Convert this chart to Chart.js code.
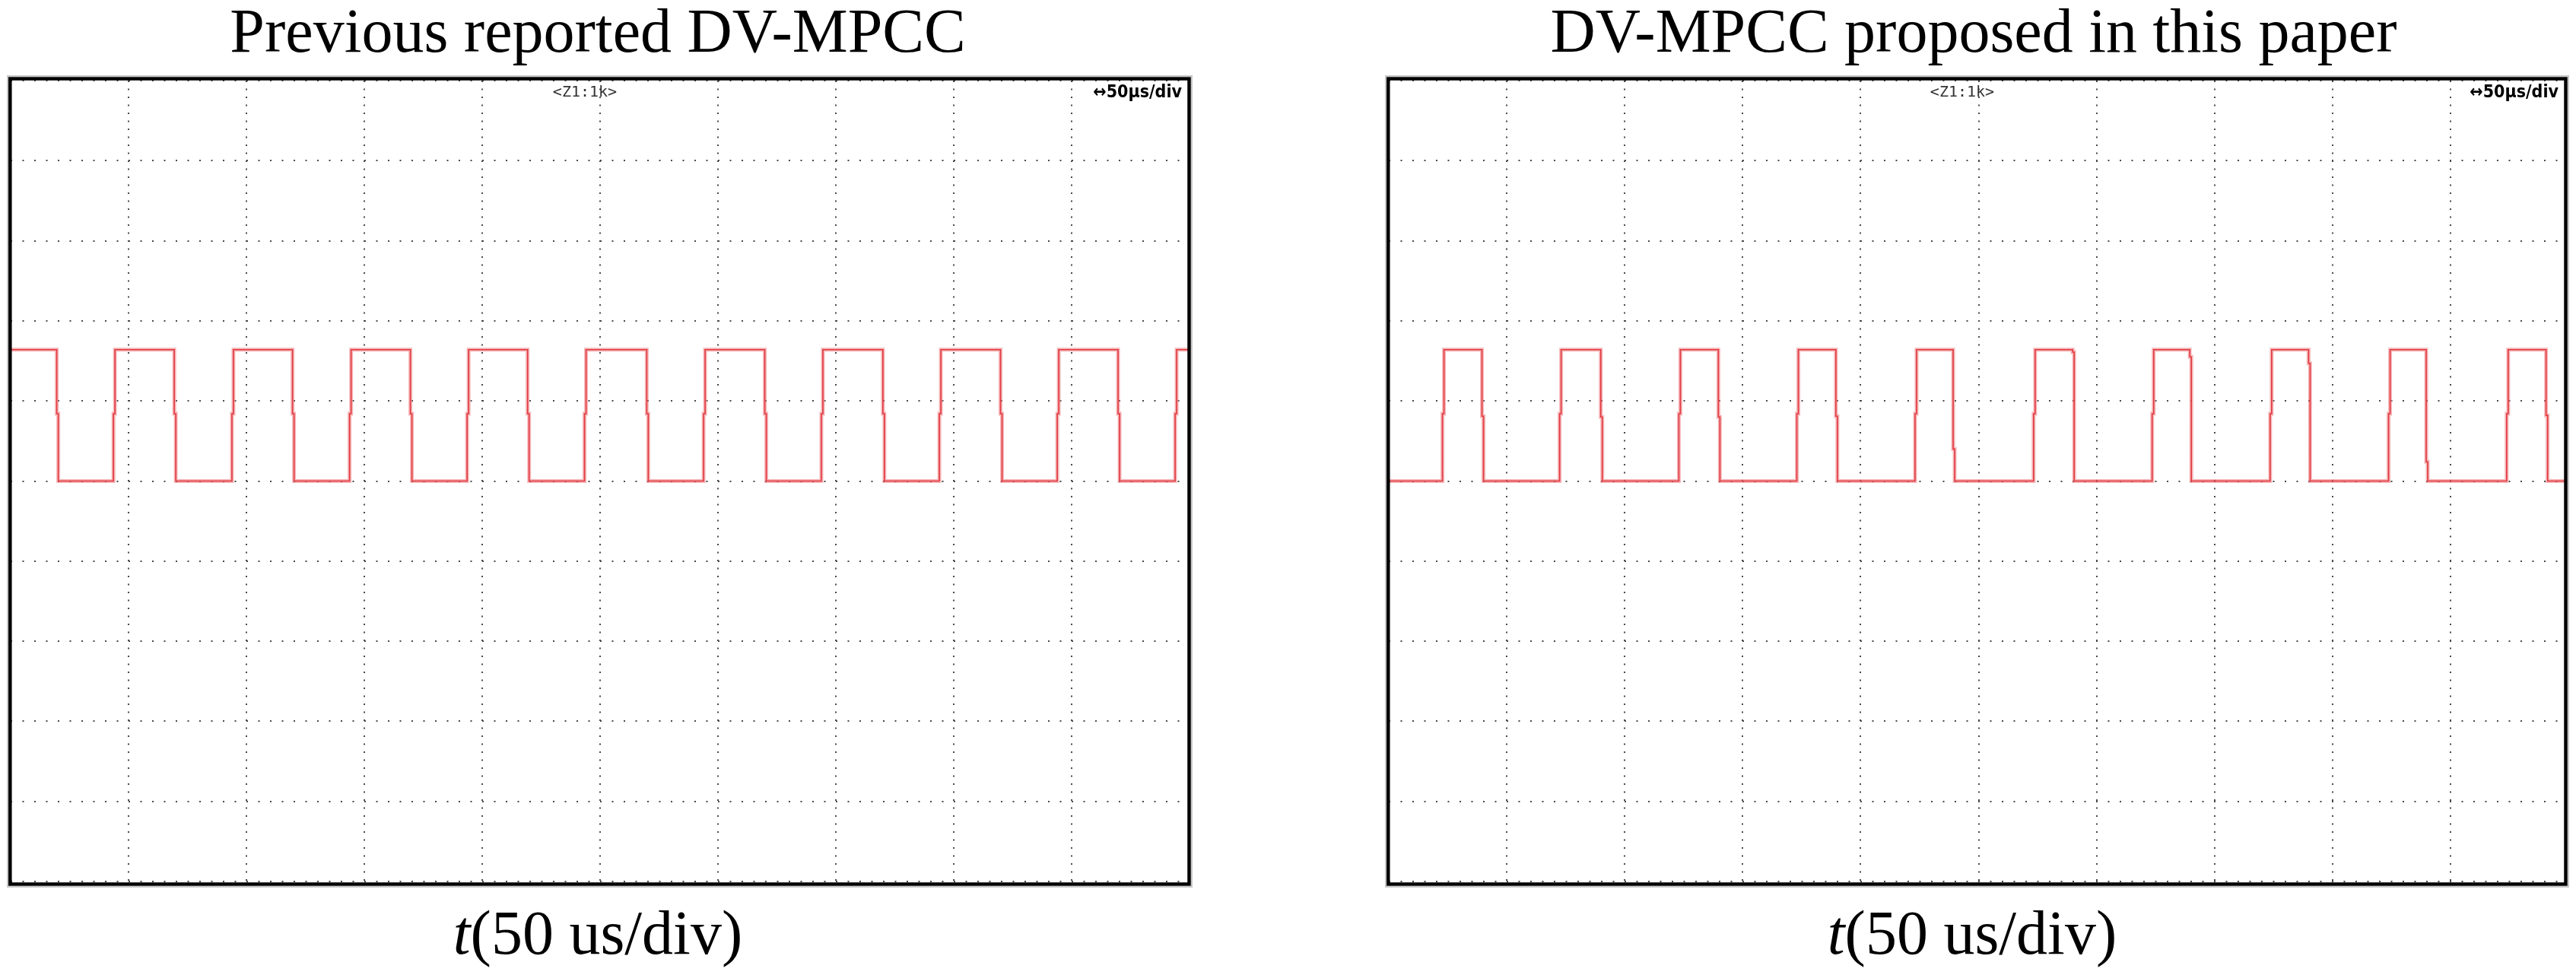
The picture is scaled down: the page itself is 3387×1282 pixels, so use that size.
<!DOCTYPE html>
<html>
<head>
<meta charset="utf-8">
<script src="https://cdn.jsdelivr.net/npm/chart.js@4.4.0/dist/chart.umd.min.js"></script>
<style>
  html, body { margin: 0; padding: 0; background: #fff; }
  #page { position: relative; width: 3387px; height: 1282px; overflow: hidden; }
  .cap { position: absolute; width: 1600px; text-align: center; white-space: nowrap;
         font-family: "Liberation Serif", "Times New Roman", serif; font-size: 82px; line-height: 82px; color: #000; }
  .box { position: absolute; top: 96px; height: 1073px; }
</style>
</head>
<body>
<div id="page">
  <div class="cap" style="left:-14px; top:0px;">Previous reported DV-MPCC</div>
  <div class="cap" style="left:1795px; top:0px;">DV-MPCC proposed in this paper</div>
  <div class="box" style="left:4px; width:1570px;"><canvas id="scopeLeft" width="1570" height="1073"></canvas></div>
  <div class="box" style="left:1816px; width:1568px;"><canvas id="scopeRight" width="1568" height="1073"></canvas></div>
  <div class="cap" style="left:-14px; top:1186px;"><i>t</i>(50 us/div)</div>
  <div class="cap" style="left:1793px; top:1186px;"><i>t</i>(50 us/div)</div>
</div>
<script>
// levels in divisions (center line = 0)
const HIGH = 1.64;
const LOW = 0;
const EDGE_KINK = 0.84;   // small step seen half way on each edge
const KINK_SHIFT = 0.013;

// previous DV-MPCC: edge times in divisions (50 us/div)
const leftFall = [0.391, 1.388, 2.391, 3.391, 4.385, 5.396, 6.397, 7.399, 8.397, 9.394];
const leftRise = [0.872, 1.877, 2.875, 3.872, 4.868, 5.878, 6.877, 7.878, 8.878, 9.878];

// proposed DV-MPCC
const rightRise = [0.455, 1.448, 2.459, 3.459, 4.461, 5.466, 6.471, 7.471, 8.475, 9.476];
const rightFall = [0.790, 1.797, 2.794, 3.790, 4.784, 5.797, 6.790, 7.797, 8.794, 9.810];
const rightFallKink = [0.81, 0.80, 0.80, 0.81, 0.40, 1.61, 1.55, 1.47, 0.24, 0.82];

const xDivs = 10;
const xDivsRight = 9.98; // right screen shot is cropped a little

function trace(startLevel, rises, falls, fallKinks, xEnd) {
  const edges = [];
  rises.forEach(t => edges.push({ t: t, from: LOW, to: HIGH, kink: EDGE_KINK }));
  falls.forEach((t, i) => edges.push({ t: t, from: HIGH, to: LOW, kink: fallKinks ? fallKinks[i] : EDGE_KINK }));
  edges.sort((a, b) => a.t - b.t);
  const pts = [{ x: 0, y: startLevel }];
  let level = startLevel;
  edges.forEach(e => {
    pts.push({ x: e.t, y: e.from });
    pts.push({ x: e.t, y: e.kink });
    pts.push({ x: e.t + KINK_SHIFT, y: e.kink });
    pts.push({ x: e.t + KINK_SHIFT, y: e.to });
    level = e.to;
  });
  pts.push({ x: xEnd, y: level });
  return pts;
}

const scopeFrame = {
  id: 'scopeFrame',
  afterDraw(chart) {
    const { ctx, chartArea: a } = chart;
    ctx.save();
    ctx.strokeStyle = 'rgba(0,0,0,0.22)';
    ctx.lineWidth = 2;
    ctx.strokeRect(a.left - 4, a.top - 6, a.right - a.left + 7, a.bottom - a.top + 13);
    ctx.strokeStyle = '#000';
    ctx.lineWidth = 4.5;
    ctx.strokeRect(a.left - 0.7, a.top - 2.5, a.right - a.left + 0.2, a.bottom - a.top + 6);
    ctx.fillStyle = '#333';
    ctx.font = '20px "DejaVu Sans Mono", monospace';
    ctx.textAlign = 'center';
    ctx.textBaseline = 'top';
    ctx.fillText('<Z1:1k>', (a.left + a.right) / 2 - 20, a.top + 6);
    ctx.fillStyle = '#000';
    ctx.font = 'bold 23px "DejaVu Sans Condensed", "DejaVu Sans", sans-serif';
    ctx.textAlign = 'right';
    ctx.fillText('\u219450\u00b5s/div', a.right - 10, a.top + 5);
    ctx.restore();
  }
};

function scope(id, data, xMax) {
  return new Chart(document.getElementById(id), {
    type: 'scatter',
    data: {
      datasets: [
        { data: data, showLine: true, pointRadius: 0, borderColor: '#e0383d', borderWidth: 1.6, tension: 0 },
        { data: data, showLine: true, pointRadius: 0, borderColor: 'rgba(236,120,126,0.55)', borderWidth: 5, tension: 0 }
      ]
    },
    options: {
      responsive: false,
      animation: false,
      layout: { padding: 10 },
      plugins: { legend: { display: false }, tooltip: { enabled: false } },
      scales: {
        x: {
          type: 'linear', min: 0, max: xMax,
          ticks: { display: false, stepSize: 1, includeBounds: false },
          grid: { color: '#4a4a4a', lineWidth: 2, drawTicks: false },
          border: { display: false, dash: [2, 8.5] }
        },
        y: {
          type: 'linear', min: -5, max: 5,
          ticks: { display: false, stepSize: 1, includeBounds: false },
          grid: { color: '#4a4a4a', lineWidth: 2, drawTicks: false },
          border: { display: false, dash: [2, 13.5] }
        }
      }
    },
    plugins: [scopeFrame]
  });
}

scope('scopeLeft', trace(HIGH, leftRise, leftFall, null, xDivs), xDivs);
scope('scopeRight', trace(LOW, rightRise, rightFall, rightFallKink, xDivsRight), xDivsRight);
</script>
</body>
</html>
